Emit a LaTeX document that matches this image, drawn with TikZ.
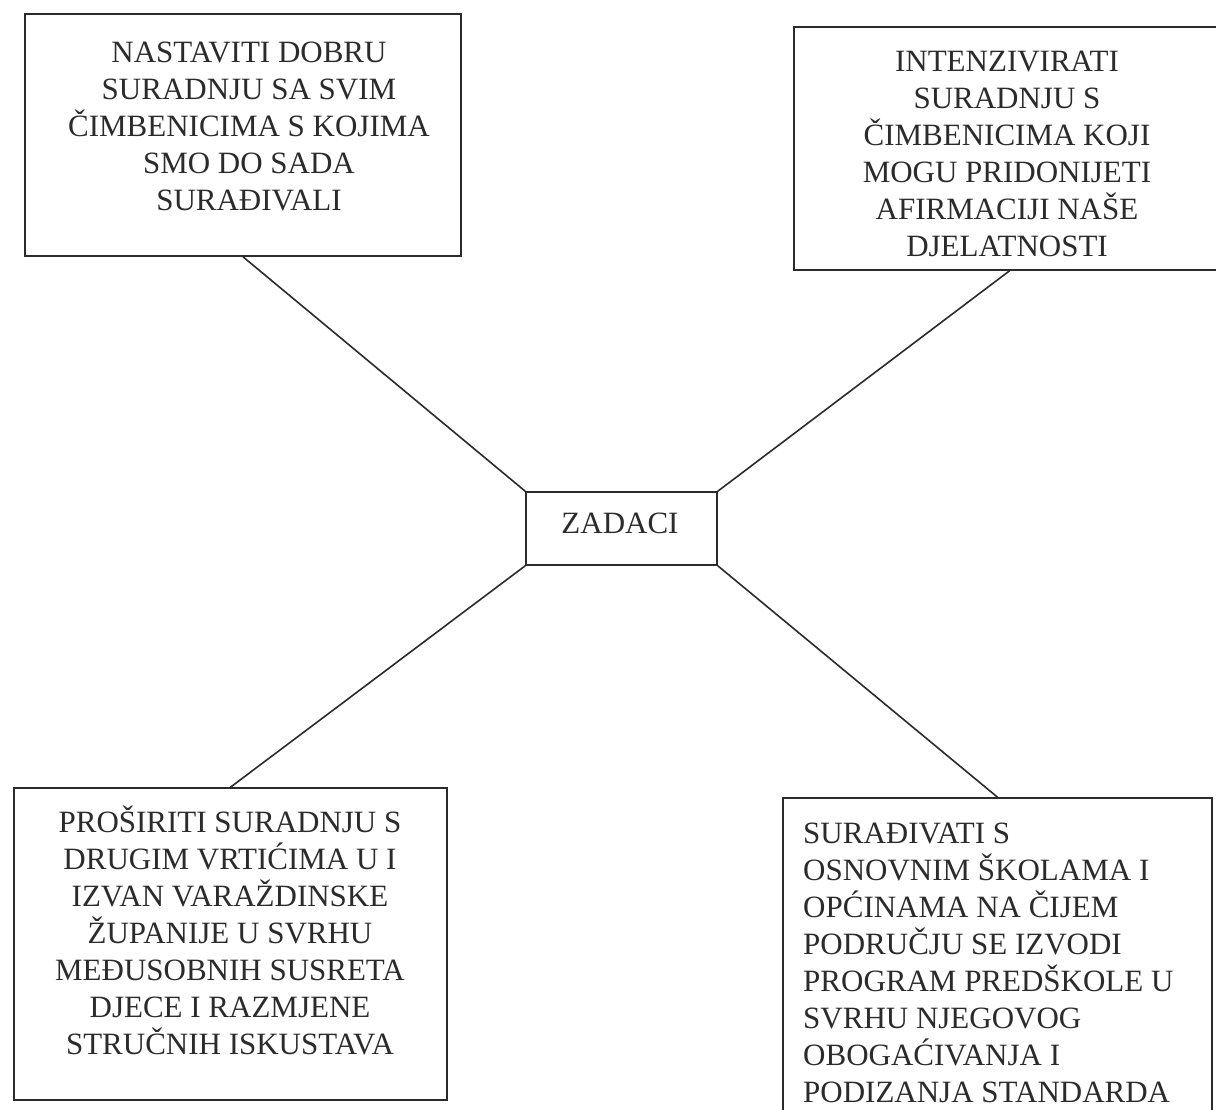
\documentclass[tikz,border=0pt]{standalone}
\usepackage{fontspec}
\setmainfont{Liberation Serif}
\begin{document}
\begin{tikzpicture}[x=1pt,y=-1pt,
  box/.style={draw=ink, line width=1.6pt, rectangle, inner sep=0pt},
  lbl/.style={text=ink, inner sep=0pt, font=\fontsize{31}{37}\selectfont},
  conn/.style={draw=ink, line width=1.6pt}]
\definecolor{ink}{HTML}{2B2B2B}
\fill[white] (0,0) rectangle (1216,1109);
\useasboundingbox (0,0) rectangle (1216,1109);
\clip (0,0) rectangle (1216,1109);
% boxes
\node[box, minimum width=436pt, minimum height=242pt] (b1) at (243,135) {};
\node[box, minimum width=431pt, minimum height=243pt] (b2) at (1009.5,148.5) {};
\node[box, minimum width=191pt, minimum height=73pt] (zad) at (621.5,528.5) {};
\node[box, minimum width=433pt, minimum height=312pt] (b3) at (230.5,944) {};
\node[box, minimum width=429pt, minimum height=322pt] (b4) at (997.5,959) {};
% texts
\node[lbl, align=center] (t1) at (249,126) {NASTAVITI DOBRU\\SURADNJU SA SVIM\\ČIMBENICIMA S KOJIMA\\SMO DO SADA\\SURAĐIVALI};
\node[lbl, align=center] (t2) at (1007,153.5) {INTENZIVIRATI\\SURADNJU S\\ČIMBENICIMA KOJI\\MOGU PRIDONIJETI\\AFIRMACIJI NAŠE\\DJELATNOSTI};
\node[lbl] (tz) at (620,523) {ZADACI};
\node[lbl, align=center] (t3) at (230,930) {PROŠIRITI SURADNJU S\\DRUGIM VRTIĆIMA U I\\IZVAN VARAŽDINSKE\\ŽUPANIJE U SVRHU\\MEĐUSOBNIH SUSRETA\\DJECE I RAZMJENE\\STRUČNIH ISKUSTAVA};
\node[lbl, align=left, anchor=west] (t4) at (803,963) {SURAĐIVATI S\\OSNOVNIM ŠKOLAMA I\\OPĆINAMA NA ČIJEM\\PODRUČJU SE IZVODI\\PROGRAM PREDŠKOLE U\\SVRHU NJEGOVOG\\OBOGAĆIVANJA I\\PODIZANJA STANDARDA};
% connectors
\draw[conn] (zad.north west) -- (b1.south);
\draw[conn] (zad.north east) -- (b2.south);
\draw[conn] (zad.south west) -- (b3.north);
\draw[conn] (zad.south east) -- (b4.north);
\end{tikzpicture}
\end{document}
